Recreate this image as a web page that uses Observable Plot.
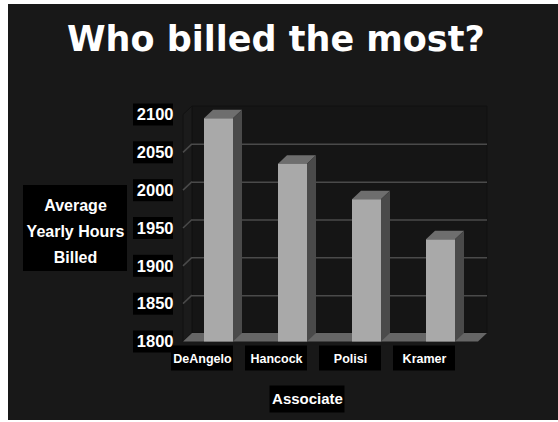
<!DOCTYPE html>
<html><head><meta charset="utf-8">
<script src="https://cdn.jsdelivr.net/npm/d3@7"></script>
<script src="https://cdn.jsdelivr.net/npm/@observablehq/plot@0.6"></script>
<style>
html,body{margin:0;padding:0;background:#fff;}
#panel{position:absolute;left:8px;top:4px;width:550px;height:416px;background:#181818;overflow:hidden;}
#title{height:80px;font-family:"DejaVu Sans",Verdana,sans-serif;font-weight:bold;font-size:35px;color:#fff;line-height:1;padding-left:59px;padding-top:18px;box-sizing:border-box;white-space:nowrap;}
#chart svg{display:block;}
</style></head><body>
<div id="panel"><div id="title">Who billed the most?</div><div id="chart"></div></div>
<script>
const associates = ["DeAngelo", "Hancock", "Polisi", "Kramer"];
const hours = [2095, 2035, 1988, 1935];
const yTicks = [1800, 1850, 1900, 1950, 2000, 2050, 2100];
const yLabel = "Average\nYearly Hours\nBilled";
const xLabel = "Associate";

const data = associates.map((a, i) => ({associate: a, hours: hours[i]}));
const depth = {dx: 9, dy: -8.5};
const font = "'Liberation Sans', Arial, sans-serif";

function pts(p) { return p.map(q => q.join(",")).join(" "); }
function bandOf(x) { return typeof x.bandwidth === "function" ? x.bandwidth() : x.bandwidth; }

function walls(index, scales, values, dim) {
  const {y} = scales;
  const x0 = dim.marginLeft, x1 = dim.width - dim.marginRight;
  const yT = y(yTicks[yTicks.length - 1]), yB = y(yTicks[0]);
  const {dx, dy} = depth;
  const g = d3.create("svg:g");
  g.append("polygon").attr("points", pts([[x0+dx,yT+dy],[x1+dx,yT+dy],[x1+dx,yB+dy],[x0+dx,yB+dy]]))
    .attr("fill", "#151515").attr("stroke", "#101010");
  g.append("polygon").attr("points", pts([[x0,yT],[x0+dx,yT+dy],[x0+dx,yB+dy],[x0,yB]]))
    .attr("fill", "#1b1b1b").attr("stroke", "#101010");
  for (const t of yTicks.slice(1, -1)) {
    g.append("line").attr("x1", x0).attr("y1", y(t)).attr("x2", x0 + dx).attr("y2", y(t) + dy)
      .attr("stroke", "#4a4a4a").attr("stroke-width", 1.5);
  }
  return g.node();
}

function floor(index, scales, values, dim) {
  const {y} = scales;
  const x0 = dim.marginLeft, x1 = dim.width - dim.marginRight;
  const yB = y(yTicks[0]);
  const {dx, dy} = depth;
  const g = d3.create("svg:g");
  g.append("polygon").attr("points", pts([[x0,yB],[x1,yB],[x1+dx,yB+dy],[x0+dx,yB+dy]]))
    .attr("fill", "#666666");
  return g.node();
}

function barFaces(index, scales, values, dim) {
  const {x, y} = scales;
  const bw = bandOf(x);
  const yB = y(yTicks[0]);
  const {dx, dy} = depth;
  const g = d3.create("svg:g");
  for (const d of data) {
    const xl = x(d.associate), xr = xl + bw, yv = y(d.hours);
    g.append("polygon").attr("points", pts([[xl,yv],[xr,yv],[xr+dx,yv+dy],[xl+dx,yv+dy]]))
      .attr("fill", "#6e6e6e");
    g.append("polygon").attr("points", pts([[xr,yv],[xr+dx,yv+dy],[xr+dx,yB+dy],[xr,yB]]))
      .attr("fill", "#4a4a4a");
  }
  return g.node();
}

function labelBoxes(index, scales, values, dim) {
  const {x, y} = scales;
  const bw = bandOf(x);
  const x0 = dim.marginLeft, x1 = dim.width - dim.marginRight;
  const yT = y(yTicks[yTicks.length - 1]), yB = y(yTicks[0]);
  const g = d3.create("svg:g").attr("fill", "#000");
  for (const t of yTicks) {
    g.append("rect").attr("x", x0 - 50).attr("y", y(t) - 11).attr("width", 40).attr("height", 22);
  }
  for (const a of associates) {
    const cx = x(a) + bw / 2 - 16.5;
    g.append("rect").attr("x", cx - 31).attr("y", yB + 4).attr("width", 62).attr("height", 25);
  }
  const ym = (yT + yB) / 2;
  g.append("rect").attr("x", x0 - 160).attr("y", ym - 43).attr("width", 104).attr("height", 86);
  const xm = (x0 + x1) / 2 - 23.5;
  g.append("rect").attr("x", xm - 37.5).attr("y", yB + 44).attr("width", 75).attr("height", 27);
  return g.node();
}

const chart = Plot.plot({
  width: 550,
  height: 336,
  marginLeft: 175,
  marginRight: 80,
  marginTop: 30.5,
  marginBottom: 78.5,
  x: {domain: associates, paddingInner: 0.614, paddingOuter: 0.3, align: 0.47, axis: null},
  y: {domain: [yTicks[0], yTicks[yTicks.length - 1]], axis: null},
  style: {background: "transparent", color: "white", fontFamily: font},
  marks: [
    walls,
    Plot.ruleY(yTicks.slice(1, -1), {dx: depth.dx, dy: depth.dy, stroke: "#4a4a4a", strokeWidth: 1.5}),
    floor,
    barFaces,
    Plot.barY(data, {x: "associate", y1: yTicks[0], y2: "hours", fill: "#a9a9a9"}),
    labelBoxes,
    Plot.text(yTicks, {y: d => d, text: d => String(d), frameAnchor: "left", dx: -10, textAnchor: "end",
      lineAnchor: "middle", fill: "white", fontSize: 16.5, fontWeight: "bold"}),
    Plot.text(associates, {x: d => d, frameAnchor: "bottom", dx: -16.5, dy: 16.5, textAnchor: "middle",
      lineAnchor: "middle", fill: "white", fontSize: 12.5, fontWeight: "bold"}),
    Plot.text([yLabel], {frameAnchor: "left", dx: -108, textAnchor: "middle", lineAnchor: "middle",
      lineHeight: 1.65, fill: "white", fontSize: 16, fontWeight: "bold"}),
    Plot.text([xLabel], {frameAnchor: "bottom", dx: -23.5, dy: 57.5, textAnchor: "middle", lineAnchor: "middle",
      fill: "white", fontSize: 15, fontWeight: "bold"})
  ]
});
document.getElementById("chart").appendChild(chart);
</script>
</body></html>
